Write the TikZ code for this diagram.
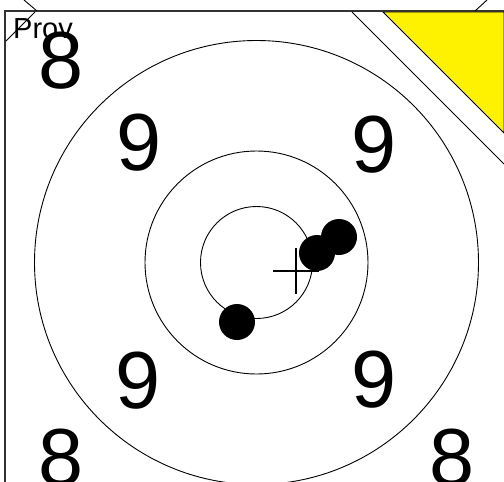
\documentclass[tikz,border=0pt]{standalone}
\usepackage{fontspec}
\setmainfont{Liberation Sans}
\begin{document}
\begin{tikzpicture}[x=1pt,y=-1pt,
  thin line/.style={draw=black,line width=0.9pt},
  frame line/.style={draw=black!80,line width=1.6pt},
  ring/.style={draw=black,line width=0.9pt},
  score/.style={inner sep=0pt,font=\fontsize{81}{81}\selectfont},
  shot/.style={fill=black}]
\useasboundingbox (0,0) rectangle (504,482);
\clip (0,0) rectangle (504,482);
% yellow corner
\filldraw[fill=yellow,draw=black,line width=0.9pt] (383,12) -- (504,133) -- (504,12) -- cycle;
% card frame
\draw[frame line] (5,482) -- (5,11) -- (504,11);
% corner lines
\coordinate (a1) at (24,0); \coordinate (a2) at (37,11);
\coordinate (b1) at (6,41); \coordinate (b2) at (35,12);
\coordinate (c1) at (352,12); \coordinate (c2) at (504,164);
\coordinate (d1) at (475,11); \coordinate (d2) at (487,0);
\draw[thin line] (a1) -- (a2);
\draw[thin line] (b1) -- (b2);
\draw[thin line] (c1) -- (c2);
\draw[thin line] (d1) -- (d2);
% rings
\coordinate (ctr) at (256.5,262.5);
\draw[ring] (ctr) circle[radius=222];
\draw[ring] (ctr) circle[radius=111.5];
\draw[ring] (ctr) circle[radius=56];
% scores
\node[score] (s8a) at (61,61) {8};
\node[score] (s8b) at (61,458) {8};
\node[score] (s8c) at (452,458) {8};
\node[score] (s9a) at (139,143) {9};
\node[score] (s9b) at (374,145) {9};
\node[score] (s9c) at (138,381) {9};
\node[score] (s9d) at (374,380) {9};
\node[inner sep=0pt,anchor=base west,font=\fontsize{29}{29}\selectfont] (prov) at (13,38) {Prov};
% cross
\coordinate (h1) at (273,271); \coordinate (h2) at (319,271);
\coordinate (v1) at (296,248); \coordinate (v2) at (296,294);
\draw[line width=1.2pt] (h1) -- (h2);
\draw[line width=1.2pt] (v1) -- (v2);
% shots
\fill[shot] (237,322) circle[radius=18];
\fill[shot] (339,237) circle[radius=18];
\fill[shot] (317,253) circle[radius=18];
\end{tikzpicture}
\end{document}
